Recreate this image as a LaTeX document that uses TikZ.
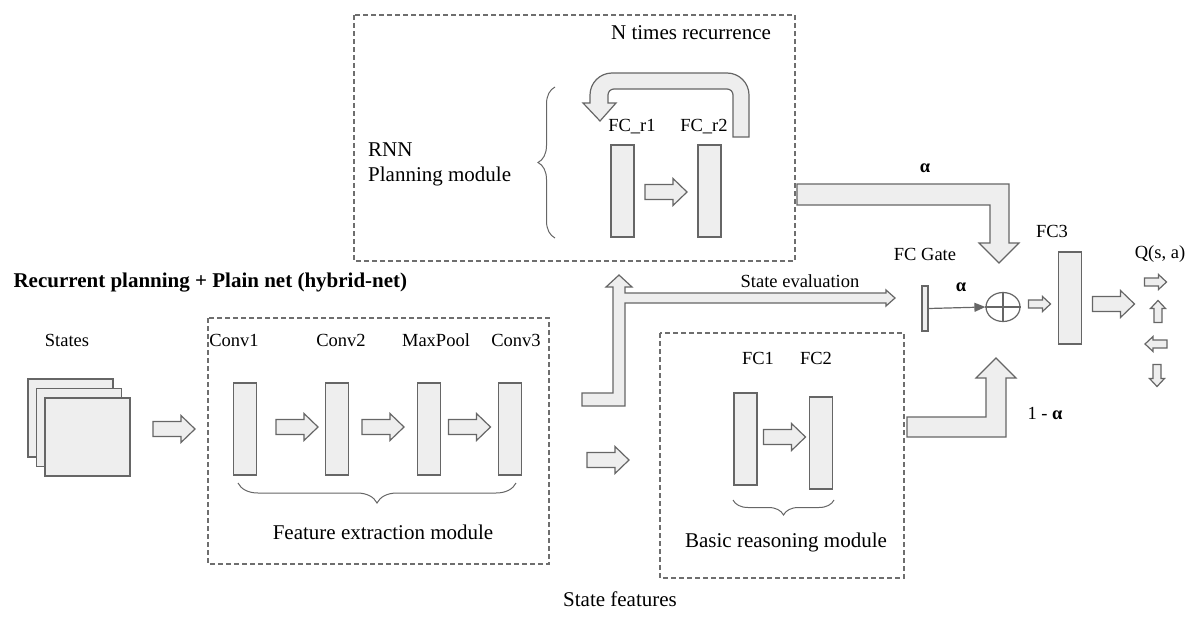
\documentclass[tikz,border=0pt]{standalone}
\usepackage{fontspec}
\setmainfont{Liberation Serif}
\usetikzlibrary{shapes.geometric,decorations.pathreplacing,arrows.meta}

\definecolor{boxfill}{HTML}{EEEEEE}
\definecolor{edgegray}{HTML}{666666}
\definecolor{dashgray}{HTML}{6E6E6E}

\tikzset{
  layer/.style={draw=edgegray, fill=boxfill, line width=1.2pt,
    minimum width=23pt, minimum height=92pt, inner sep=0pt},
  arrowbox/.style={draw=edgegray, fill=boxfill, line width=1.2pt},
  module/.style={draw=dashgray, dash pattern=on 5pt off 3pt, line width=1.1pt},
  lbl/.style={font=\fontsize{18.5}{21}\selectfont, inner sep=0pt},
  biglbl/.style={font=\fontsize{21}{24}\selectfont, inner sep=0pt},
  curly/.style={decorate, decoration={brace, amplitude=#1}, draw=edgegray, line width=1pt},
  curly/.default=15pt,
  pics/fatarrow/.style={code={
    \draw[arrowbox] (-21,-7.5) -- (7,-7.5) -- (7,-13.5) -- (21,0) -- (7,13.5) -- (7,7.5) -- (-21,7.5) -- cycle;}},
  pics/thinarrow/.style={code={
    \draw[arrowbox] (-11,-4) -- (3,-4) -- (3,-7.5) -- (11,0) -- (3,7.5) -- (3,4) -- (-11,4) -- cycle;}},
}

\begin{document}
\begin{tikzpicture}[x=1pt, y=-1pt]
\useasboundingbox (0,0) rectangle (1198,621);

% title and input states
\node[anchor=west, font=\fontsize{21}{24}\selectfont\bfseries] (title) at (10,283) {Recurrent planning + Plain net (hybrid-net)};
\node[lbl] (states) at (67,340) {States};
\foreach \i in {0,1,2}
  \draw[arrowbox] (28+8.5*\i,379+9.5*\i) rectangle ++(85,78);
\pic at (174,429) {fatarrow};

% feature extraction module
\draw[module] (208,318) rectangle (549,564);
\node[layer] (conv1) at (245,429) {};
\node[layer] (conv2) at (337,429) {};
\node[layer] (pool) at (429,429) {};
\node[layer] (conv3) at (510,429) {};
\node[lbl] at (234,340) {Conv1};
\node[lbl] at (341,340) {Conv2};
\node[lbl] at (436,340) {MaxPool};
\node[lbl] at (516,340) {Conv3};
\pic at (297,427) {fatarrow};
\pic at (383,427) {fatarrow};
\pic at (469.5,427) {fatarrow};
\draw[curly=20pt] (516,483) -- (238,483);
\node[biglbl] (featlbl) at (383,532) {Feature extraction module};

% RNN planning module
\draw[module] (354,15) rectangle (795,261);
\node[biglbl] (ntimes) at (691,33) {N times recurrence};
\node[biglbl, anchor=west] (rnn) at (368,150) {RNN};
\node[biglbl, anchor=west] (plan) at (368,176) {Planning module};
\draw[curly=17pt] (555,238) -- (555,87);
\node[layer] (fcr1) at (622.5,191) {};
\node[layer] (fcr2) at (709.5,191) {};
\node[lbl] at (632,127) {FC\_r1};
\node[lbl] at (704,127) {FC\_r2};
\pic at (666,192) {fatarrow};
\draw[arrowbox] (749,137) [rounded corners=22pt] -- (749,73) -- (590,73)
  [sharp corners] -- (590,103) -- (583,103) -- (600,121) -- (616,103) -- (608,103)
  [rounded corners=6pt] -- (608,89) -- (733,89) [sharp corners] -- (733,137) -- cycle;

% state features split
\draw[arrowbox] (582,393) -- (613,393) -- (613,287) -- (606,287) -- (619,275) -- (632,287)
  -- (625,287) -- (625,293) -- (886,293) -- (886,290) -- (895,298) -- (886,306) -- (886,303)
  -- (625,303) -- (625,406) -- (582,406) -- cycle;
\node[lbl] (evallbl) at (800,281) {State evaluation};
\pic at (608,460) {fatarrow};
\node[biglbl] (featout) at (620,599) {State features};

% basic reasoning module
\draw[module] (660,333) rectangle (904,578);
\node[layer] (fc1) at (745.5,439) {};
\node[layer] (fc2) at (821,443) {};
\node[lbl] at (758,358) {FC1};
\node[lbl] at (816,358) {FC2};
\pic at (784.5,437) {fatarrow};
\draw[curly=15pt] (834,500) -- (733,500);
\node[biglbl] (basiclbl) at (786,542) {Basic reasoning module};

% gating
\draw[arrowbox] (797,184) -- (1009,184) -- (1009,243) -- (1019,243) -- (999,263) -- (979,243)
  -- (990,243) -- (990,205) -- (797,205) -- cycle;
\node[lbl, font=\fontsize{18.5}{21}\selectfont\bfseries] at (925,168) {α};
\draw[arrowbox] (907,417) -- (986,417) -- (986,378) -- (976,378) -- (996,358) -- (1016,378)
  -- (1006,378) -- (1006,437) -- (907,437) -- cycle;
\node[lbl] at (1045,413) {1 - \textbf{α}};
\node[lbl] at (925,254) {FC Gate};
\node[draw=edgegray, fill=boxfill, line width=1.2pt, minimum width=6pt,
  minimum height=45pt, inner sep=0pt] (gate) at (925,308.5) {};
\node[lbl, font=\fontsize{18.5}{21}\selectfont\bfseries] at (961,287) {α};
\node[ellipse, draw=edgegray, line width=1.2pt, minimum width=34pt,
  minimum height=29pt, inner sep=0pt] (plus) at (1003,307) {};
\draw[edgegray, line width=1.2pt] (plus.north) -- (plus.south) (plus.west) -- (plus.east);
\draw[edgegray, line width=1.2pt, -{Triangle[length=11pt,width=9pt]}] (gate.east) -- (plus.west);

% output
\pic at (1039.5,304) {thinarrow};
\node[layer] (fc3) at (1070,298) {};
\node[lbl] at (1052,231) {FC3};
\pic at (1113.5,304) {fatarrow};
\node[lbl] (qval) at (1160,254) {Q(s, a)};
\pic at (1155.5,282) {thinarrow};
\pic[rotate=90] at (1158,311.5) {thinarrow};
\pic[rotate=180] at (1156,344) {thinarrow};
\pic[rotate=-90] at (1157,375.5) {thinarrow};
\end{tikzpicture}
\end{document}
